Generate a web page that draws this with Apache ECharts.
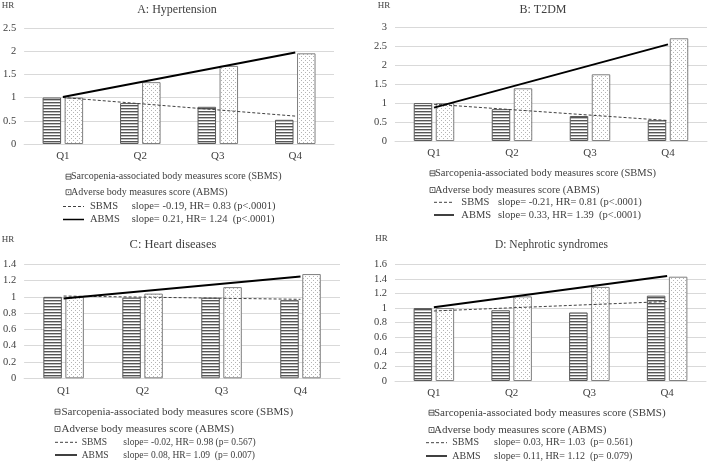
<!DOCTYPE html>
<html><head><meta charset="utf-8">
<script src="https://cdn.jsdelivr.net/npm/echarts@6/dist/echarts.min.js"></script>
<style>html,body{margin:0;padding:0;background:#fff}#c{width:708px;height:463px}</style>
</head><body><div id="c"></div>
<script>
const categories = ['Q1', 'Q2', 'Q3', 'Q4'];
const titles = ['A: Hypertension', 'B: T2DM', 'C: Heart diseases', 'D: Nephrotic syndromes'];
const yMax = [2.5, 3, 1.4, 1.6];
const yStep = [0.5, 0.5, 0.2, 0.2];

// bar values (HR by quartile)
const sbmsA = [1.0, 0.88, 0.80, 0.52];
const abmsA = [1.0, 1.33, 1.68, 1.95];
const sbmsB = [1.0, 0.84, 0.66, 0.55];
const abmsB = [1.0, 1.39, 1.76, 2.71];
const sbmsC = [1.0, 0.99, 0.99, 0.96];
const abmsC = [1.0, 1.04, 1.12, 1.28];
const sbmsD = [1.0, 0.97, 0.94, 1.17];
const abmsD = [1.0, 1.16, 1.29, 1.43];

// trend lines: values at Q1 and Q4
const sbmsTrendA = [1.0, 0.60];
const abmsTrendA = [1.01, 1.97];
const sbmsTrendB = [0.97, 0.54];
const abmsTrendB = [0.88, 2.55];
const sbmsTrendC = [1.01, 0.97];
const abmsTrendC = [0.98, 1.25];
const sbmsTrendD = [0.96, 1.09];
const abmsTrendD = [1.01, 1.44];

// legend texts
const legendBar1 = 'Sarcopenia-associated body measures score (SBMS)';
const legendBar2 = 'Adverse body measures score (ABMS)';
const sbmsStats = ['slope= -0.19, HR= 0.83 (p<.0001)', 'slope= -0.21, HR= 0.81 (p<.0001)', 'slope= -0.02, HR= 0.98 (p= 0.567)', 'slope= 0.03, HR= 1.03  (p= 0.561)'];
const abmsStats = ['slope= 0.21, HR= 1.24  (p<.0001)', 'slope= 0.33, HR= 1.39  (p<.0001)', 'slope= 0.08, HR= 1.09  (p= 0.007)', 'slope= 0.11, HR= 1.12  (p= 0.079)'];

const sbmsAll = [sbmsA, sbmsB, sbmsC, sbmsD];
const abmsAll = [abmsA, abmsB, abmsC, abmsD];
const sbmsTrends = [sbmsTrendA, sbmsTrendB, sbmsTrendC, sbmsTrendD];
const abmsTrends = [abmsTrendA, abmsTrendB, abmsTrendC, abmsTrendD];

const FONT = "'Liberation Serif', 'Times New Roman', serif";
const TXT = '#404040';

function stripeCanvas() {
  const c = document.createElement('canvas'); c.width = 4; c.height = 3;
  const x = c.getContext('2d');
  x.fillStyle = '#fff'; x.fillRect(0, 0, 4, 3);
  x.fillStyle = '#555'; x.fillRect(0, 0, 4, 1);
  x.fillStyle = '#bdbdbd'; x.fillRect(0, 1, 4, 1);
  return c;
}
function dotCanvas() {
  const c = document.createElement('canvas'); c.width = 4; c.height = 4;
  const x = c.getContext('2d');
  x.fillStyle = '#fff'; x.fillRect(0, 0, 4, 4);
  x.fillStyle = '#b4b4b4'; x.fillRect(1, 0, 1, 1); x.fillRect(3, 2, 1, 1);
  return c;
}
const stripeFill = { image: stripeCanvas(), repeat: 'repeat' };
const dotFill = { image: dotCanvas(), repeat: 'repeat' };

const grids = [
  { left: 22, top: 27.75, width: 312, height: 116.25 },
  { left: 395, top: 27.3, width: 312, height: 113.7 },
  { left: 22, top: 264.3, width: 318, height: 114 },
  { left: 395, top: 264.3, width: 311, height: 116.7 }
];

const xAxis = [], yAxis = [], series = [];
for (let i = 0; i < 4; i++) {
  xAxis.push({
    type: 'category', gridIndex: i, data: categories,
    axisLine: { lineStyle: { color: '#d9d9d9' } }, axisTick: { show: false },
    axisLabel: { fontFamily: FONT, fontSize: 11, color: TXT, margin: 7 }
  });
  yAxis.push({
    type: 'value', gridIndex: i, min: 0, max: yMax[i], interval: yStep[i],
    axisLine: { show: false }, axisTick: { show: false },
    splitLine: { lineStyle: { color: '#d9d9d9' } },
    axisLabel: { fontFamily: FONT, fontSize: 10.5, color: TXT, margin: 8 }
  });
  series.push({
    type: 'bar', xAxisIndex: i, yAxisIndex: i, data: sbmsAll[i], barWidth: 18.5, barGap: '19%',
    itemStyle: { color: stripeFill, borderColor: '#595959', borderWidth: 1 }, silent: true
  });
  series.push({
    type: 'bar', xAxisIndex: i, yAxisIndex: i, data: abmsAll[i], barWidth: 18.5, barGap: '19%',
    itemStyle: { color: dotFill, borderColor: '#7f7f7f', borderWidth: 1 }, silent: true
  });
  series.push({
    type: 'line', xAxisIndex: i, yAxisIndex: i, z: 5, symbol: 'none', silent: true,
    data: [[categories[0], sbmsTrends[i][0]], [categories[3], sbmsTrends[i][1]]],
    lineStyle: { color: '#404040', width: 1, type: [3, 2] }
  });
  series.push({
    type: 'line', xAxisIndex: i, yAxisIndex: i, z: 5, symbol: 'none', silent: true,
    data: [[categories[0], abmsTrends[i][0]], [categories[3], abmsTrends[i][1]]],
    lineStyle: { color: '#000', width: 2 }
  });
}

const graphic = [];
function txt(x, y, s, size, align) {
  graphic.push({ type: 'text', silent: true, style: { x: x, y: y, text: s, fill: TXT, font: size + 'px ' + FONT, textAlign: align || 'left', textVerticalAlign: 'middle' } });
}
// titles and HR labels
const titlePos = [[177, 10], [543, 10], [173, 245], [551.5, 245]];
const titleSize = [12, 12, 12.5, 11.5];
const hrPos = [[8, 6], [384, 6], [8, 240], [381.5, 239]];
for (let i = 0; i < 4; i++) {
  txt(titlePos[i][0], titlePos[i][1], titles[i], titleSize[i], 'center');
  txt(hrPos[i][0], hrPos[i][1], 'HR', 9, 'center');
}
// legends: [squareX, textX, y1, y2, lineX1, lineX2, nameX, statX, y3, y4, bigSize, smallSize]
const legPos = [
  [66, 71, 176.7, 192.2, 63, 84, 90, 131.7, 206.5, 219.5, 10, 10.5],
  [430, 435, 173.3, 190, 434, 454, 461.3, 498, 202.3, 215, 10.5, 10.5],
  [55, 61.5, 411.7, 429, 55, 77, 81.7, 123.3, 442.3, 455, 11, 9.5],
  [429, 434, 412.7, 430, 426, 447, 452.3, 494, 442.7, 456, 11, 10]
];
for (let i = 0; i < 4; i++) {
  const p = legPos[i];
  // SBMS square (horizontal lines)
  graphic.push({ type: 'rect', silent: true, shape: { x: p[0], y: p[2] - 2.5, width: 5, height: 5 }, style: { fill: '#fff', stroke: TXT, lineWidth: 0.8 } });
  graphic.push({ type: 'line', silent: true, shape: { x1: p[0], y1: p[2], x2: p[0] + 5, y2: p[2] }, style: { stroke: TXT, lineWidth: 0.8 } });
  txt(p[1], p[2], legendBar1, p[10]);
  // ABMS square (dot)
  graphic.push({ type: 'rect', silent: true, shape: { x: p[0], y: p[3] - 2.5, width: 5, height: 5 }, style: { fill: '#fff', stroke: TXT, lineWidth: 0.8 } });
  graphic.push({ type: 'rect', silent: true, shape: { x: p[0] + 2, y: p[3] - 0.5, width: 1, height: 1 }, style: { fill: TXT } });
  txt(p[1], p[3], legendBar2, p[10]);
  // trend line legend
  graphic.push({ type: 'line', silent: true, shape: { x1: p[4], y1: p[8], x2: p[5], y2: p[8] }, style: { stroke: TXT, lineWidth: 1, lineDash: [3, 2] } });
  txt(p[6], p[8], 'SBMS', p[11]);
  txt(p[7], p[8], sbmsStats[i], p[11]);
  graphic.push({ type: 'line', silent: true, shape: { x1: p[4], y1: p[9], x2: p[5], y2: p[9] }, style: { stroke: '#000', lineWidth: 1.5 } });
  txt(p[6], p[9], 'ABMS', p[11]);
  txt(p[7], p[9], abmsStats[i], p[11]);
}

const chart = echarts.init(document.getElementById('c'), null, { renderer: 'canvas' });
chart.setOption({
  animation: false,
  backgroundColor: '#fff',
  grid: grids,
  xAxis: xAxis,
  yAxis: yAxis,
  series: series,
  graphic: graphic
});
</script></body></html>
